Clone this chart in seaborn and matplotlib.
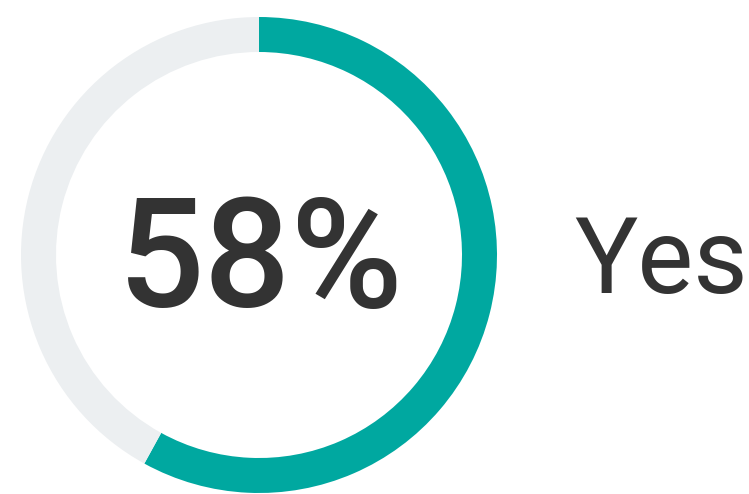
import matplotlib
matplotlib.use("Agg")
import matplotlib.pyplot as plt
import seaborn as sns

# Datos del gráfico
categorias = ["Yes", "No"]
valores = [58, 42]
colores = ["#00A8A0", "#ECEFF1"]
etiqueta_centro = "58%"
etiqueta_lado = "Yes"

sns.set_theme(style="white")
plt.rcParams["font.family"] = ["Roboto", "DejaVu Sans"]

fig = plt.figure(figsize=(7.49, 4.94), dpi=100)
ax = fig.add_axes([0, 0, 1, 1])

# Donut: arranca arriba y va en sentido horario
ax.pie(
    valores,
    colors=colores,
    startangle=90,
    counterclock=False,
    center=(259, 239),
    radius=238,
    wedgeprops=dict(width=35, linewidth=0),
    frame=True,
)
ax.set_xlim(0, 749)
ax.set_ylim(0, 494)
ax.set_aspect("equal")
ax.axis("off")

ax.text(261, 187, etiqueta_centro, ha="center", va="baseline",
        fontsize=110, fontweight="medium", color="#333333")
ax.text(574, 201, etiqueta_lado, ha="left", va="baseline",
        fontsize=76, color="#333333")

fig.savefig("out.png", dpi=100)
